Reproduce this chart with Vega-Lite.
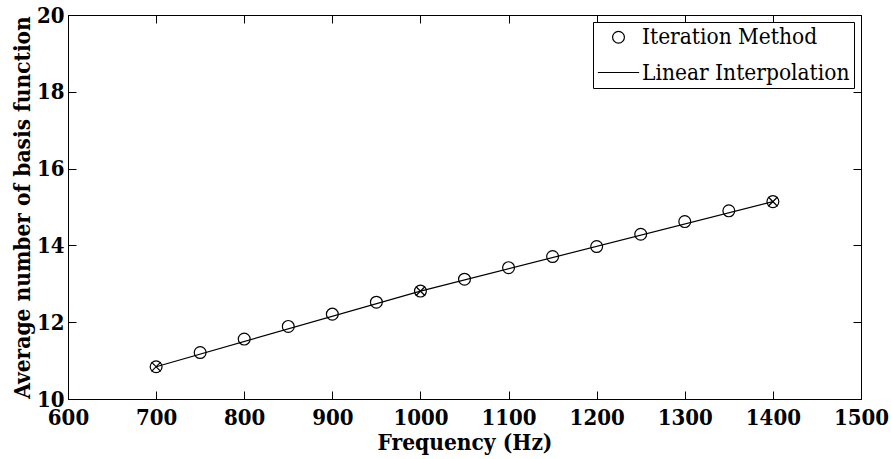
{
  "$schema": "https://vega.github.io/schema/vega-lite/v6.json",
  "width": 793,
  "height": 384,
  "autosize": {"type": "none"},
  "padding": {"left": 68, "top": 15, "right": 30, "bottom": 60},
  "background": "white",
  "config": {
    "view": {"stroke": "black", "strokeWidth": 1},
    "axis": {
      "domainColor": "black",
      "tickColor": "black",
      "grid": false,
      "labelFont": "DejaVu Serif Condensed",
      "labelFontSize": 22,
      "labelFontWeight": "bold",
      "labelColor": "black",
      "titleFont": "DejaVu Serif Condensed",
      "titleFontSize": 22.5,
      "titleFontWeight": "bold",
      "titleColor": "black",
      "labelOverlap": false,
      "labelFlush": false,
      "labelBound": false
    },
    "legend": {
      "orient": "top-right",
      "offset": 7,
      "strokeColor": "black",
      "fillColor": "white",
      "padding": 4,
      "labelFont": "DejaVu Serif Condensed",
      "labelFontSize": 22.5,
      "labelColor": "black",
      "labelLimit": 400,
      "labelOffset": 2,
      "rowPadding": 2,
      "symbolStrokeWidth": 1.2
    }
  },
  "datasets": {
    "iter": [
      {"f": 700, "v": 10.84, "series": "Iteration Method"},
      {"f": 750, "v": 11.21, "series": "Iteration Method"},
      {"f": 800, "v": 11.56, "series": "Iteration Method"},
      {"f": 850, "v": 11.89, "series": "Iteration Method"},
      {"f": 900, "v": 12.21, "series": "Iteration Method"},
      {"f": 950, "v": 12.52, "series": "Iteration Method"},
      {"f": 1000, "v": 12.81, "series": "Iteration Method"},
      {"f": 1050, "v": 13.12, "series": "Iteration Method"},
      {"f": 1100, "v": 13.42, "series": "Iteration Method"},
      {"f": 1150, "v": 13.71, "series": "Iteration Method"},
      {"f": 1200, "v": 13.97, "series": "Iteration Method"},
      {"f": 1250, "v": 14.29, "series": "Iteration Method"},
      {"f": 1300, "v": 14.62, "series": "Iteration Method"},
      {"f": 1350, "v": 14.9, "series": "Iteration Method"},
      {"f": 1400, "v": 15.14, "series": "Iteration Method"}
    ],
    "interp": [
      {"f": 700, "v": 10.84},
      {"f": 1000, "v": 12.81},
      {"f": 1400, "v": 15.14}
    ]
  },
  "resolve": {"axis": {"x": "independent", "y": "independent"}},
  "layer": [
    {
      "data": {"name": "interp"},
      "mark": {"type": "line", "color": "black", "strokeWidth": 1.2},
      "encoding": {
        "x": {
          "field": "f", "type": "quantitative",
          "scale": {"domain": [600, 1500], "nice": false, "zero": false},
          "axis": {"orient": "bottom", "format": "d", "values": [600,700,800,900,1000,1100,1200,1300,1400,1500], "tickSize": -8, "labelPadding": 16, "title": "Frequency (Hz)", "titlePadding": 3}
        },
        "y": {
          "field": "v", "type": "quantitative",
          "scale": {"domain": [10, 20], "nice": false, "zero": false},
          "axis": {"orient": "left", "format": "d", "values": [10,12,14,16,18,20], "tickSize": -8, "labelPadding": 12, "title": "Average number of basis function", "titlePadding": 2}
        }
      }
    },
    {
      "data": {"name": "iter"},
      "mark": {"type": "point", "filled": false, "color": "black", "strokeWidth": 1.2, "opacity": 1},
      "encoding": {
        "x": {"field": "f", "type": "quantitative", "axis": null},
        "y": {"field": "v", "type": "quantitative", "axis": null},
        "shape": {
          "field": "series", "type": "nominal",
          "scale": {"domain": ["Iteration Method", "Linear Interpolation"], "range": ["circle", "stroke"]},
          "legend": {"title": null}
        },
        "size": {
          "field": "series", "type": "nominal",
          "scale": {"domain": ["Iteration Method", "Linear Interpolation"], "range": [140, 1700]},
          "legend": {"title": null}
        }
      }
    },
    {
      "data": {"name": "interp"},
      "mark": {"type": "point", "filled": false, "color": "black", "strokeWidth": 1.2, "opacity": 1, "shape": "M-1,-1L1,1M1,-1L-1,1", "size": 85},
      "encoding": {
        "x": {"field": "f", "type": "quantitative", "axis": {"orient": "top", "values": [600,700,800,900,1000,1100,1200,1300,1400,1500], "tickSize": -8, "labels": false, "domain": false, "title": null}},
        "y": {"field": "v", "type": "quantitative", "axis": {"orient": "right", "values": [10,12,14,16,18,20], "tickSize": -8, "labels": false, "domain": false, "title": null}}
      }
    }
  ]
}
